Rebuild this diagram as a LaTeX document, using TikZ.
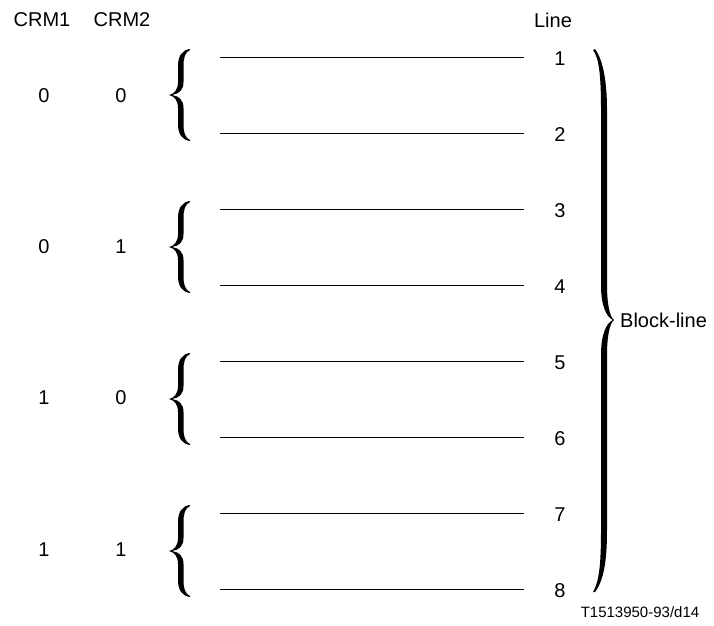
\documentclass[tikz,border=0pt]{standalone}
\usepackage{fontspec}
\setmainfont{Liberation Sans}

\tikzset{curly/.pic={
  \fill (12,46) .. controls (4,45) and (0,39) .. (0,29) -- (0,13)
    .. controls (0,5) and (-4,1) .. (-9,0) .. controls (-4,-1) and (0,-5) .. (0,-13)
    -- (0,-29) .. controls (0,-39) and (4,-45) .. (12,-46)
    -- (12,-45) .. controls (7,-43) and (5.5,-37) .. (5.5,-29) -- (5.5,-13)
    .. controls (5.5,-5) and (1,-1) .. (-6,0) .. controls (1,1) and (5.5,5) .. (5.5,13)
    -- (5.5,29) .. controls (5.5,37) and (7,43) .. (12,45) -- cycle;
}}

\begin{document}
\begin{tikzpicture}[x=1pt,y=1pt]
   \tikzstyle{lbl}=[inner sep=2pt,font=\fontsize{20}{22}\selectfont]
   \tikzstyle{rule}=[draw,line width=0.8pt]
   \useasboundingbox (0,0) rectangle (714,-625);
   \node (crm1) [lbl] at (42,-20) {CRM1} ;
   \node (crm2) [lbl] at (122,-20) {CRM2} ;
   \node (line) [lbl] at (553,-20) {Line} ;
   % CRM values
   \node (a1) [lbl] at (44,-96) {0} ;
   \node (b1) [lbl,right of=a1,node distance=77pt] {0} ;
   \node (a2) [lbl,below of=a1,node distance=151pt] {0} ;
   \node (b2) [lbl,right of=a2,node distance=77pt] {1} ;
   \node (a3) [lbl,below of=a2,node distance=151pt] {1} ;
   \node (b3) [lbl,right of=a3,node distance=77pt] {0} ;
   \node (a4) [lbl,below of=a3,node distance=152pt] {1} ;
   \node (b4) [lbl,right of=a4,node distance=77pt] {1} ;
   % line numbers
   \node (n1) [lbl] at (560,-59) {1} ;
   \node (n2) [lbl,below of=n1,node distance=76pt] {2} ;
   \node (n3) [lbl,below of=n2,node distance=76pt] {3} ;
   \node (n4) [lbl,below of=n3,node distance=76pt] {4} ;
   \node (n5) [lbl,below of=n4,node distance=76pt] {5} ;
   \node (n6) [lbl,below of=n5,node distance=76pt] {6} ;
   \node (n7) [lbl,below of=n6,node distance=76pt] {7} ;
   \node (n8) [lbl,below of=n7,node distance=76pt] {8} ;
   % lines
   \coordinate (e) at (524,0) ;
   \coordinate (s1) at (220,-57) ;
   \coordinate (s2) at (220,-133) ;
   \coordinate (s3) at (220,-209) ;
   \coordinate (s4) at (220,-285) ;
   \coordinate (s5) at (220,-361) ;
   \coordinate (s6) at (220,-437) ;
   \coordinate (s7) at (220,-513) ;
   \coordinate (s8) at (220,-589) ;
   \path [rule] (s1) -- (s1 -| e) ;
   \path [rule] (s2) -- (s2 -| e) ;
   \path [rule] (s3) -- (s3 -| e) ;
   \path [rule] (s4) -- (s4 -| e) ;
   \path [rule] (s5) -- (s5 -| e) ;
   \path [rule] (s6) -- (s6 -| e) ;
   \path [rule] (s7) -- (s7 -| e) ;
   \path [rule] (s8) -- (s8 -| e) ;
   % braces
   \pic at (178,-95) {curly} ;
   \pic at (178,-247) {curly} ;
   \pic at (178,-399) {curly} ;
   \pic at (178,-551) {curly} ;
   \coordinate (tip) at (613,-320) ;
   \fill (593,-50) .. controls (599,-58) and (601,-75) .. (601,-110) -- (601,-285)
      .. controls (601,-305) and (606,-317) .. (tip)
      .. controls (606,-323) and (601,-335) .. (601,-355) -- (601,-530)
      .. controls (601,-565) and (599,-582) .. (593,-592)
      -- (595,-592) .. controls (604,-580) and (607,-560) .. (607,-530) -- (607,-355)
      .. controls (607,-335) and (610,-323) .. (614,-320)
      .. controls (610,-317) and (607,-305) .. (607,-285) -- (607,-110)
      .. controls (607,-78) and (602,-58) .. (595,-49) -- cycle ;
   \node (blk) [lbl,anchor=west] at (618,-320) {Block-line} ;
   \node (ref) [inner sep=0pt,font=\fontsize{15}{18}\selectfont] at (640,-612) {T1513950-93/d14} ;
\end{tikzpicture}
\end{document}
